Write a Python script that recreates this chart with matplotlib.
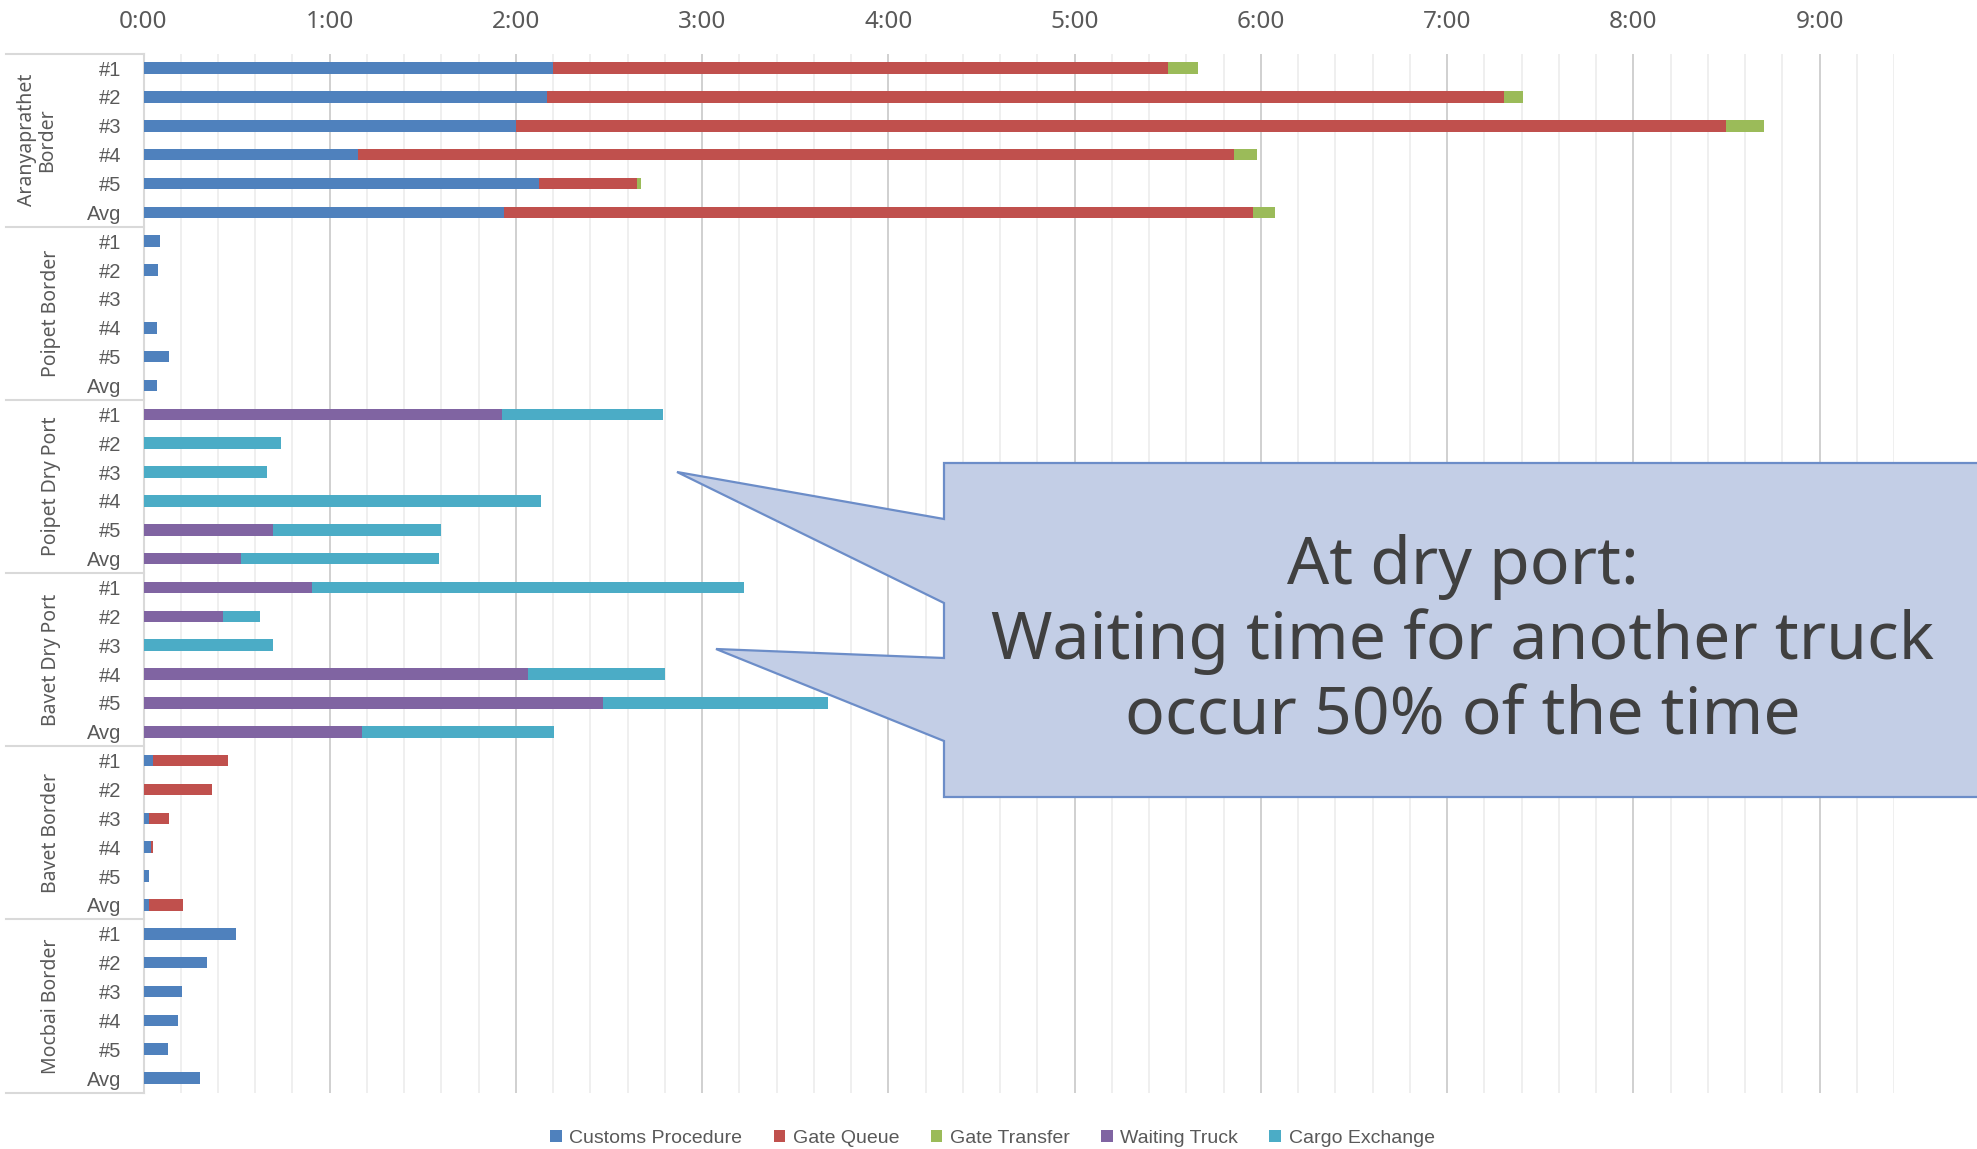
import matplotlib
matplotlib.use("Agg")
import matplotlib.pyplot as plt
from matplotlib import font_manager
from matplotlib.patches import Polygon
from matplotlib.ticker import FuncFormatter, MultipleLocator
import numpy as np

W, H = 1977, 1149

names = {f.name for f in font_manager.fontManager.ttflist}
NARROW = "Liberation Sans Narrow" if "Liberation Sans Narrow" in names else "Liberation Sans"
WIDE = "Noto Sans"

# ---------------------------------------------------------------------------
# Data: minutes per stage, rows top to bottom
# ---------------------------------------------------------------------------
groups = ["Aranyaprathet\nBorder", "Poipet Border", "Poipet Dry Port",
          "Bavet Dry Port", "Bavet Border", "Mocbai Border"]
row_labels = ["#1", "#2", "#3", "#4", "#5", "Avg"]

customs = [132, 130, 120, 69, 127.5, 116,
           5.2, 4.7, 0, 4.4, 8.2, 4.4,
           0, 0, 0, 0, 0, 0,
           0, 0, 0, 0, 0, 0,
           3.0, 0, 1.7, 2.3, 1.7, 1.7,
           29.9, 20.6, 12.4, 11.2, 7.8, 18.2]
gate_queue = [198, 308.5, 390, 282.5, 31.5, 241.5,
              0, 0, 0, 0, 0, 0,
              0, 0, 0, 0, 0, 0,
              0, 0, 0, 0, 0, 0,
              24.3, 22.2, 6.5, 0.7, 0, 10.9,
              0, 0, 0, 0, 0, 0]
gate_transfer = [9.6, 6, 12, 7.2, 1.2, 7.2] + [0] * 30
waiting_truck = [0] * 12 + [115.4, 0, 0, 0, 41.7, 31.3,
                            54.3, 25.6, 0, 124, 148.1, 70.4] + [0] * 12
cargo_exchange = [0] * 12 + [51.9, 44.4, 39.8, 128.1, 54.2, 64.0,
                             139.2, 12, 41.7, 43.9, 72.6, 61.7] + [0] * 12

series = [
    ("Customs Procedure", customs, "#4F81BD"),
    ("Gate Queue", gate_queue, "#C0504D"),
    ("Gate Transfer", gate_transfer, "#9BBB59"),
    ("Waiting Truck", waiting_truck, "#8064A2"),
    ("Cargo Exchange", cargo_exchange, "#4BACC6"),
]

n_rows = len(groups) * len(row_labels)
y = np.arange(n_rows)

fig = plt.figure(figsize=(W / 100, H / 100), dpi=100)
ax = fig.add_axes([143.5 / W, 1 - 1092.5 / H, (1894 - 143.5) / W, (1092.5 - 53.7) / H])

left = np.zeros(n_rows)
for name, vals, color in series:
    hrs = np.array(vals) / 60.0
    ax.barh(y, hrs, left=left, height=0.4, color=color, label=name, linewidth=0, zorder=3)
    left += hrs

ax.set_xlim(0, 9.4)
ax.set_ylim(n_rows - 0.5, -0.5)
ax.xaxis.set_major_locator(MultipleLocator(1))
ax.xaxis.set_minor_locator(MultipleLocator(0.2))
ax.xaxis.set_major_formatter(FuncFormatter(lambda v, p: f"{int(round(v))}:00"))
ax.xaxis.tick_top()
ax.grid(which="major", axis="x", color="#d0d0d0", lw=1.4, zorder=0)
ax.grid(which="minor", axis="x", color="#ececec", lw=1.2, zorder=0)
ax.tick_params(axis="x", which="both", length=0, pad=14, labelsize=17.5, labelcolor="#595959")
for t in ax.get_xticklabels():
    t.set_fontfamily(WIDE)

ax.set_yticks(y)
ax.set_yticklabels(row_labels * len(groups))
ax.tick_params(axis="y", length=0, pad=16, labelsize=14.5, labelcolor="#595959")
for t in ax.get_yticklabels():
    t.set_fontfamily(NARROW)

for s in ["top", "right", "bottom"]:
    ax.spines[s].set_visible(False)
ax.spines["left"].set_color("#d9d9d9")
ax.spines["left"].set_linewidth(1.5)

# group separators and group labels on the left
trans = ax.get_yaxis_transform()
x_sep = -(143.5 - 6) / (1894 - 143.5)
for k in range(len(groups) + 1):
    yb = k * len(row_labels) - 0.5
    ax.plot([x_sep, 0], [yb, yb], transform=trans, color="#d9d9d9", lw=1.5, clip_on=False)
for k, g in enumerate(groups):
    yc = k * len(row_labels) + (len(row_labels) - 1) / 2
    xc = (37 - 143.5) / (1894 - 143.5) if "\n" in g else (51 - 143.5) / (1894 - 143.5)
    ax.text(xc, yc, g, transform=trans, rotation=90, ha="center", va="center",
            fontsize=14, color="#595959", family=WIDE, multialignment="center",
            linespacing=1.05)

# legend
fig.legend(loc="center", bbox_to_anchor=(0.502, 0.0095), ncol=5, frameon=False,
           handlelength=0.6, handleheight=0.6, handletextpad=0.4, columnspacing=1.6,
           prop={"family": NARROW, "size": 14}, labelcolor="#595959")

# callout box
pts = [(944, 463), (2000, 463), (2000, 797), (944, 797), (944, 741), (716, 649),
       (944, 658), (944, 603), (677, 472), (944, 519)]
poly = Polygon([(px / W, 1 - py / H) for px, py in pts], closed=True,
               transform=fig.transFigure, facecolor="#C3CEE6", edgecolor="#6C8DC8",
               lw=1.6, zorder=10)
fig.patches.append(poly)
fig.text(1463 / W, 1 - 642 / H,
         "At dry port:\nWaiting time for another truck\noccur 50% of the time",
         ha="center", va="center", fontsize=47.6, color="#404040", family=WIDE,
         linespacing=1.18, zorder=11)

fig.savefig("out.png", dpi=100)
